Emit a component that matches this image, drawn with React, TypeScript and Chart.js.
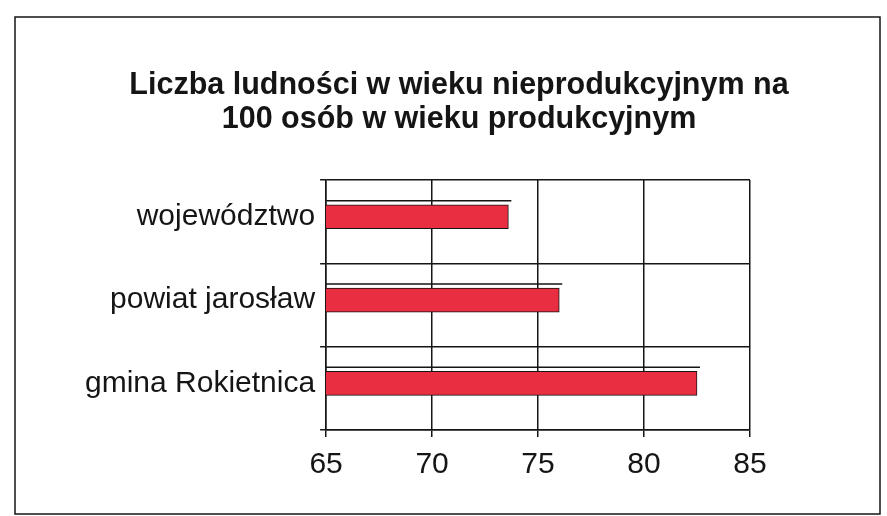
import React, { useEffect, useRef } from "react";
import { Chart, registerables } from "chart.js";

Chart.register(...registerables);

const TITLE_LINES = ["Liczba ludności w wieku nieprodukcyjnym na", "100 osób w wieku produkcyjnym"];
const CATEGORIES = ["województwo", "powiat jarosław", "gmina Rokietnica"];
const VALUES = [73.6, 76.0, 82.5];
const X_MIN = 65;
const X_MAX = 85;
const X_STEP = 5;
// category band boundaries (Excel gridlines sit between categories)
const Y_GRID = [-0.44, 0.56, 1.56, 2.56];

const FONT = "'Liberation Sans', Arial, sans-serif";
const INK = "#151515";

const framePlugin = {
  id: "frame",
  beforeDraw(chart: any) {
    const { ctx, width, height } = chart;
    ctx.save();
    ctx.fillStyle = "#ffffff";
    ctx.fillRect(0, 0, width, height);
    ctx.strokeStyle = INK;
    ctx.lineWidth = 1.5;
    ctx.strokeRect(15, 17, 865, 497);
    ctx.restore();
  },
};

const titleShiftPlugin = {
  id: "titleShift",
  afterLayout(chart: any) {
    const tb = chart.titleBlock;
    if (tb) {
      tb.left += 44;
      tb.right += 44;
    }
  },
};

const depthLinePlugin = {
  id: "depthLine",
  afterDatasetsDraw(chart: any) {
    const { ctx, chartArea } = chart;
    const meta = chart.getDatasetMeta(0);
    ctx.save();
    ctx.strokeStyle = INK;
    ctx.lineWidth = 1.5;
    meta.data.forEach((el: any) => {
      const top = el.y - el.height / 2 - 4;
      ctx.beginPath();
      ctx.moveTo(Math.max(el.base, chartArea.left), top);
      ctx.lineTo(el.x + 3, top);
      ctx.stroke();
    });
    ctx.restore();
  },
};

export default function App() {
  const ref = useRef<HTMLCanvasElement | null>(null);

  useEffect(() => {
    document.body.style.margin = "0";
    if (!ref.current) return;
    const chart = new Chart(ref.current, {
      type: "bar",
      data: {
        datasets: [
          {
            data: VALUES.map((v, i) => ({ x: v, y: i })),
            backgroundColor: "rgb(234,46,66)",
            borderColor: INK,
            borderWidth: 1,
            barThickness: 24,
          } as any,
        ],
      },
      options: {
        indexAxis: "y",
        responsive: false,
        animation: false,
        devicePixelRatio: 1,
        layout: { padding: { left: 80, right: 137, top: 0, bottom: 23 } },
        plugins: {
          legend: { display: false },
          tooltip: { enabled: false },
          title: {
            display: true,
            text: TITLE_LINES,
            color: INK,
            font: { family: FONT, size: 30.5, weight: "bold", lineHeight: 1.1 },
            padding: { top: 69, bottom: 44 },
          },
        },
        scales: {
          x: {
            type: "linear",
            min: X_MIN,
            max: X_MAX,
            ticks: {
              stepSize: X_STEP,
              color: INK,
              font: { family: FONT, size: 30 },
              padding: 10,
            },
            grid: { color: INK, lineWidth: 1.5, tickLength: 7 },
            border: { color: INK, width: 1.5 },
          },
          y: {
            type: "linear",
            reverse: true,
            offset: false,
            min: Y_GRID[0],
            max: Y_GRID[Y_GRID.length - 1],
            afterBuildTicks(scale: any) {
              const vals = [...Y_GRID, ...CATEGORIES.map((_, i) => i)].sort((a, b) => a - b);
              scale.ticks = vals.map((v) => ({ value: v }));
            },
            ticks: {
              autoSkip: false,
              color: INK,
              font: { family: FONT, size: 30 },
              padding: 5,
              callback: (value: any) =>
                Number.isInteger(value) ? CATEGORIES[value as number] : "",
            },
            grid: {
              offset: false,
              color: (c: any) =>
                c.tick && Number.isInteger(c.tick.value) ? "rgba(0,0,0,0)" : INK,
              lineWidth: 1.5,
              tickLength: 6,
            },
            border: { color: INK, width: 1.5 },
          },
        },
      } as any,
      plugins: [framePlugin, titleShiftPlugin, depthLinePlugin],
    });
    return () => chart.destroy();
  }, []);

  return <canvas ref={ref} width={887} height={516} style={{ display: "block" }} />;
}
